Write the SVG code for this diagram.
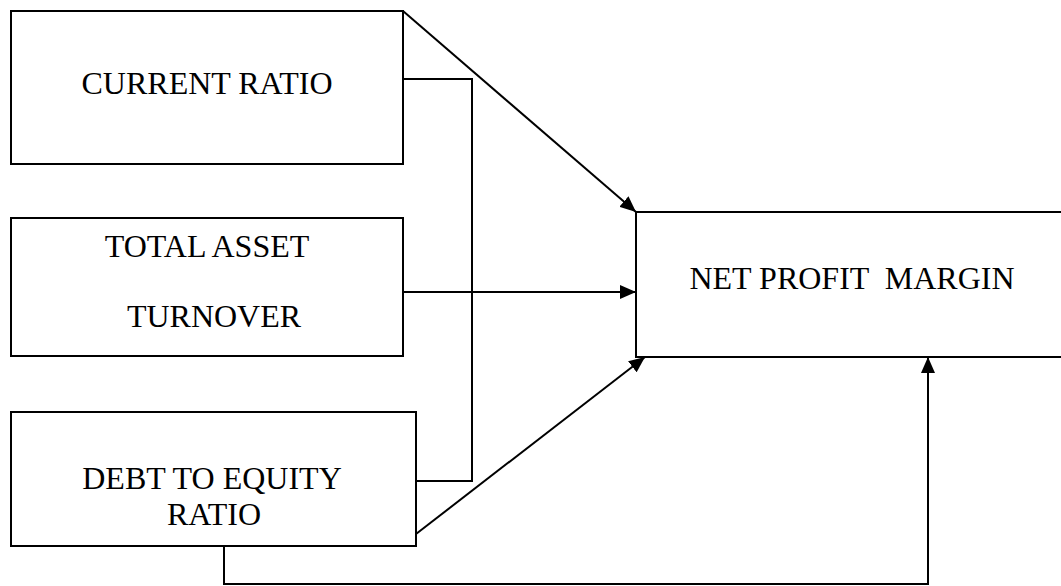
<svg xmlns="http://www.w3.org/2000/svg" width="1061" height="586" viewBox="0 0 1061 586">
  <style>
    .box { fill: #ffffff; stroke: #000000; stroke-width: 2; }
    .lbl { font-family: "Liberation Serif", "Times New Roman", serif; font-size: 32px; fill: #000000; text-anchor: middle; }
    .con { fill: none; stroke: #000000; stroke-width: 2; }
  </style>
  <defs>
    <marker id="arr" markerUnits="userSpaceOnUse" markerWidth="16" markerHeight="14" refX="16" refY="7" orient="auto">
      <path d="M0,0 L16,7 L0,14 z" fill="#000000"/>
    </marker>
  </defs>
  <rect width="1061" height="586" fill="#ffffff"/>
  <g id="node-current-ratio">
    <rect class="box" x="11" y="11" width="392" height="153"/>
    <text class="lbl" x="207" y="94">CURRENT RATIO</text>
  </g>
  <g id="node-total-asset-turnover">
    <rect class="box" x="11" y="218" width="392" height="138"/>
    <text class="lbl" x="207" y="257">TOTAL ASSET</text>
    <text class="lbl" x="214" y="327">TURNOVER</text>
  </g>
  <g id="node-debt-to-equity">
    <rect class="box" x="11" y="412" width="405" height="134"/>
    <text class="lbl" x="212" y="489">DEBT TO EQUITY</text>
    <text class="lbl" x="214" y="525">RATIO</text>
  </g>
  <g id="node-net-profit-margin">
    <rect class="box" x="636" y="212" width="440" height="145"/>
    <text class="lbl" x="852" y="289" xml:space="preserve">NET PROFIT  MARGIN</text>
  </g>
  <g id="connectors">
    <line class="con" x1="403" y1="11" x2="636" y2="212" marker-end="url(#arr)"/>
    <line class="con" x1="403" y1="292" x2="636" y2="292" marker-end="url(#arr)"/>
    <line class="con" x1="416" y1="534" x2="645" y2="357" stroke-width="1.5" marker-end="url(#arr)"/>
    <polyline class="con" points="403,79 472,79 472,481 416,481"/>
    <polyline class="con" points="224,546 224,584 928,584 928,357" stroke-width="1.5" marker-end="url(#arr)"/>
  </g>
</svg>
